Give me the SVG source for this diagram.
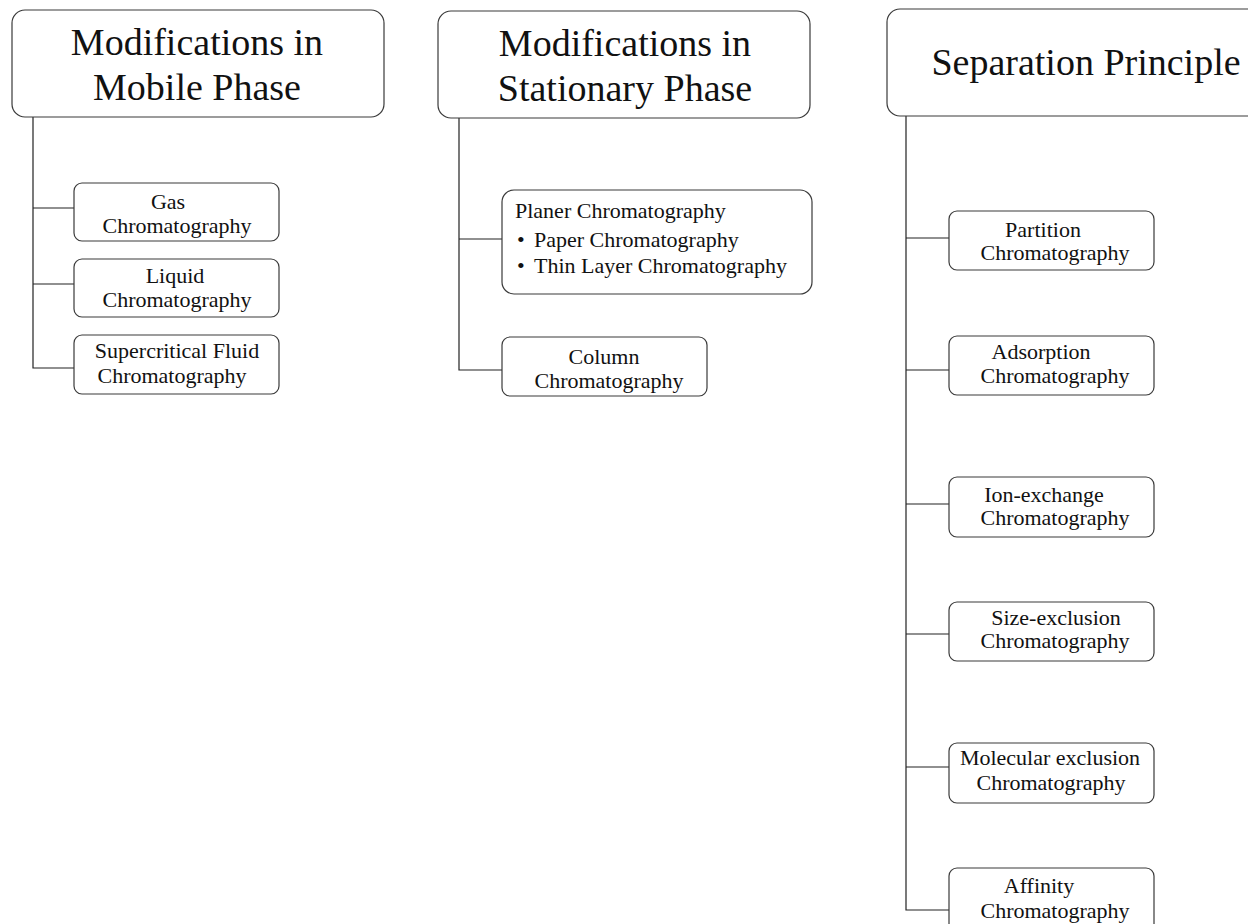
<svg xmlns="http://www.w3.org/2000/svg" width="1248" height="924" viewBox="0 0 1248 924">
<style>
.hb{fill:#fff;stroke:#3a3a3a;stroke-width:1.2}
.sb{fill:#fff;stroke:#3a3a3a;stroke-width:1.2}
.ht{font-family:"Liberation Serif",serif;font-size:38px;fill:#111;text-anchor:middle}
.st{font-family:"Liberation Serif",serif;font-size:22px;fill:#111;text-anchor:middle}
.lt{font-family:"Liberation Serif",serif;font-size:22px;fill:#111}
.c{fill:none;stroke:#222;stroke-width:1.2}
</style>
<rect width="1248" height="924" fill="#fff"/>
<g id="connectors">
<path class="c" d="M33 117V368H74M33 208H74M33 284H74"/>
<path class="c" d="M459 118V370H502"/>
<path class="c" d="M459 239H502" stroke-width="2"/>
<path class="c" d="M906 116V910H949M906 238H949M906 370H949M906 504H949M906 634H949M906 767H949"/>
</g>
<g id="h1"><rect class="hb" x="12" y="10" width="372" height="107" rx="13"/>
<text class="ht" x="197" y="55">Modifications in</text><text class="ht" x="197" y="100">Mobile Phase</text></g>
<g id="h2"><rect class="hb" x="438" y="11" width="372" height="107" rx="13"/>
<text class="ht" x="625" y="56">Modifications in</text><text class="ht" x="625" y="101">Stationary Phase</text></g>
<g id="h3"><rect class="hb" x="887" y="9" width="380" height="107" rx="13"/>
<text class="ht" x="1086" y="75">Separation Principle</text></g>
<g id="gas"><rect class="sb" x="74" y="183" width="205" height="58" rx="8"/>
<text class="st" x="168" y="209">Gas</text><text class="st" x="177" y="233">Chromatography</text></g>
<g id="liquid"><rect class="sb" x="74" y="259" width="205" height="58" rx="8"/>
<text class="st" x="175" y="283">Liquid</text><text class="st" x="177" y="307">Chromatography</text></g>
<g id="scf"><rect class="sb" x="74" y="335" width="205" height="59" rx="8"/>
<text class="st" x="177" y="358">Supercritical Fluid</text><text class="st" x="172" y="383">Chromatography</text></g>
<g id="planer"><rect class="sb" x="502" y="190" width="310" height="104" rx="12"/>
<text class="lt" x="515" y="218">Planer Chromatography</text>
<text class="lt" x="517" y="247">•<tspan x="534">Paper Chromatography</tspan></text>
<text class="lt" x="517" y="273">•<tspan x="534">Thin Layer Chromatography</tspan></text></g>
<g id="column"><rect class="sb" x="502" y="337" width="205" height="59" rx="8"/>
<text class="st" x="604" y="364">Column</text><text class="st" x="609" y="388">Chromatography</text></g>
<g id="partition"><rect class="sb" x="949" y="211" width="205" height="59" rx="8"/>
<text class="st" x="1043" y="237">Partition</text><text class="st" x="1055" y="260">Chromatography</text></g>
<g id="adsorption"><rect class="sb" x="949" y="336" width="205" height="59" rx="8"/>
<text class="st" x="1041" y="359">Adsorption</text><text class="st" x="1055" y="383">Chromatography</text></g>
<g id="ion"><rect class="sb" x="949" y="477" width="205" height="60" rx="8"/>
<text class="st" x="1044" y="502">Ion-exchange</text><text class="st" x="1055" y="525">Chromatography</text></g>
<g id="size"><rect class="sb" x="949" y="602" width="205" height="59" rx="8"/>
<text class="st" x="1056" y="625">Size-exclusion</text><text class="st" x="1055" y="648">Chromatography</text></g>
<g id="molecular"><rect class="sb" x="949" y="743" width="205" height="60" rx="8"/>
<text class="st" x="1050" y="765">Molecular exclusion</text><text class="st" x="1051" y="790">Chromatography</text></g>
<g id="affinity"><rect class="sb" x="949" y="868" width="205" height="70" rx="8"/>
<text class="st" x="1039" y="893">Affinity</text><text class="st" x="1055" y="918">Chromatography</text></g>
</svg>
